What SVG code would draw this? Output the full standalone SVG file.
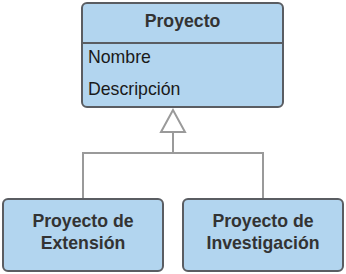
<svg xmlns="http://www.w3.org/2000/svg" width="346" height="274" viewBox="0 0 346 274">
  <style>
    .box { fill: #b2d5ef; stroke: #5a5d62; stroke-width: 2; }
    .div { stroke: #5a5d62; stroke-width: 2; }
    .title { font-family: "Liberation Sans", Arial, sans-serif; font-size: 17.7px; font-weight: bold; fill: #333333; text-anchor: middle; }
    .attr { font-family: "Liberation Sans", Arial, sans-serif; font-size: 17.7px; fill: #1a1a1a; }
    .conn { fill: none; stroke: #9a9a9a; stroke-width: 2; }
    .head { fill: #ffffff; stroke: #9a9a9a; stroke-width: 2; }
  </style>
  <rect width="346" height="274" fill="#ffffff"/>

  <g id="connectors">
    <path class="conn" d="M83 198 V153 H263 V198"/>
    <path class="conn" d="M173 153 V132"/>
    <polygon class="head" points="173,110 161,132 185,132"/>
  </g>

  <g id="proyecto">
    <rect class="box" x="82" y="3" width="201" height="104" rx="5"/>
    <line class="div" x1="82" y1="43" x2="283" y2="43"/>
    <text class="title" x="182.5" y="27">Proyecto</text>
    <text class="attr" x="88" y="63">Nombre</text>
    <text class="attr" x="88" y="94.5">Descripción</text>
  </g>

  <g id="proyecto-extension">
    <rect class="box" x="3" y="199" width="160" height="72" rx="5"/>
    <text class="title" x="83" y="227">Proyecto de</text>
    <text class="title" x="83" y="248.5">Extensión</text>
  </g>

  <g id="proyecto-investigacion">
    <rect class="box" x="183" y="199" width="160" height="72" rx="5"/>
    <text class="title" x="263" y="227">Proyecto de</text>
    <text class="title" x="263" y="248.5">Investigación</text>
  </g>
</svg>
